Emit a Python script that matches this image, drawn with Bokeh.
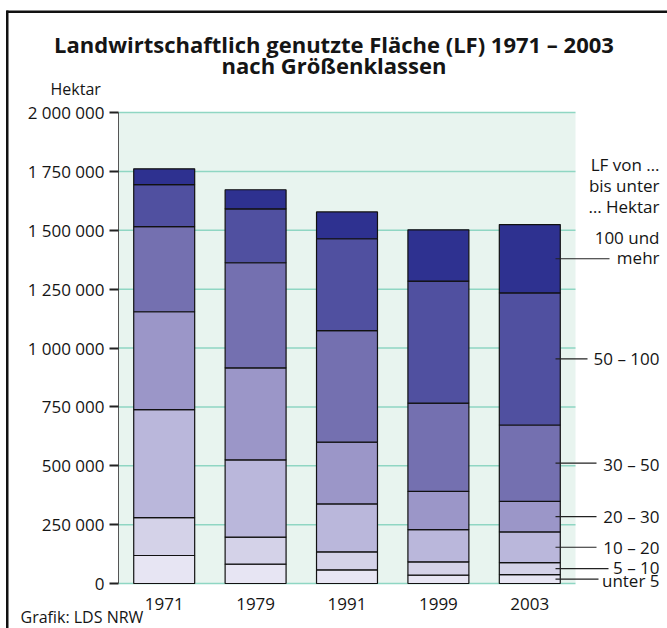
from bokeh.plotting import figure
from bokeh.models import Range1d, FixedTicker, BoxAnnotation, ColumnDataSource
from bokeh.embed import file_html
from bokeh.resources import INLINE
from bokeh.core.properties import value

# ---------------- data ----------------
years = ["1971", "1979", "1991", "1999", "2003"]
class_keys = ["u5", "v5", "v10", "v20", "v30", "v50", "v100"]
class_labels = ["unter 5", "5 – 10", "10 – 20", "20 – 30", "30 – 50", "50 – 100", "100 und mehr"]
unter5 = [119000, 82000, 58000, 35500, 38000]
von5   = [161000, 115000, 76500, 56500, 51000]
von10  = [458000, 328000, 203500, 137000, 130000]
von20  = [416000, 391000, 262000, 162000, 130000]
von30  = [361000, 446000, 474000, 375000, 324000]
von50  = [179000, 229000, 390000, 518000, 561000]
von100 = [67000, 81000, 114000, 218000, 290000]
y_ticks = [0, 250000, 500000, 750000, 1000000, 1250000, 1500000, 1750000, 2000000]
y_tick_labels = ["0", "250 000", "500 000", "750 000", "1 000 000", "1 250 000",
                 "1 500 000", "1 750 000", "2 000 000"]
colors = ["#e7e5f3", "#d4d2e8", "#bab7db", "#9b96c8", "#7470b0", "#5050a0", "#2e3190"]

FONT = "Open Sans"
TXT = "#151515"

# ---------------- layout: page pixels -> data units ----------------
W, H = 667, 628
AX_X, BAR_STEP = 118.0, 91.4        # page x of the value axis, pixels per category
Y0_PX, Y2M_PX = 583.0, 112.0        # page y of 0 and of 2 000 000
YMAX = 2000000


def xd(px):
    return 0.5 + (px - AX_X) / BAR_STEP


def yd(py):
    return (Y0_PX - py) / (Y0_PX - Y2M_PX) * YMAX


p = figure(width=W, height=H, x_range=Range1d(xd(0), xd(W)), y_range=Range1d(yd(H), yd(0)),
           output_backend="svg", toolbar_location=None,
           min_border_left=0, min_border_right=0, min_border_top=0, min_border_bottom=0)
p.outline_line_color = None
p.background_fill_color = "white"
p.border_fill_color = "white"
p.xgrid.visible = False
p.ygrid.visible = False

# plot background
p.add_layout(BoxAnnotation(left=0.5, right=5.5, bottom=0, top=YMAX,
                           fill_color="#e8f4ef", fill_alpha=1, line_color=None,
                           level="underlay"))

# grid lines at the tick values, only over the plot background
p.segment(x0=[0.5] * len(y_ticks), x1=[5.5] * len(y_ticks), y0=y_ticks, y1=y_ticks,
          line_color="#8fd6c3", line_width=1.5)

# stacked bars
src = ColumnDataSource(dict(x=list(range(1, len(years) + 1)), u5=unter5, v5=von5,
                            v10=von10, v20=von20, v30=von30, v50=von50, v100=von100))
p.vbar_stack(class_keys, x="x", width=0.667, source=src, color=colors,
             line_color="#111111", line_width=1.2)

# axes (drawn inside the full-size frame)
yax = p.yaxis[0]
yax.fixed_location = 0.5
yax.bounds = (0, YMAX)
yax.ticker = FixedTicker(ticks=y_ticks)
yax.major_label_overrides = {t: l for t, l in zip(y_ticks, y_tick_labels)}
yax.major_tick_out = 9
yax.major_tick_in = 0
yax.minor_tick_out = 0
yax.minor_tick_in = 0
yax.major_tick_line_color = "#222222"
yax.major_tick_line_width = 2
yax.axis_line_color = "#555555"
yax.axis_line_width = 1
yax.major_label_standoff = 5
yax.major_label_text_font = FONT
yax.major_label_text_font_size = "17px"
yax.major_label_text_color = TXT

xax = p.xaxis[0]
xax.fixed_location = 0
xax.ticker = FixedTicker(ticks=list(range(1, len(years) + 1)))
xax.major_label_overrides = {i + 1: y for i, y in enumerate(years)}
xax.axis_line_color = None
xax.major_tick_line_color = None
xax.minor_tick_line_color = None
xax.major_label_standoff = 8
xax.major_label_text_font = FONT
xax.major_label_text_font_size = "17px"
xax.major_label_text_color = TXT

# leader lines and class labels at the 2003 bar
last = [s[-1] for s in (unter5, von5, von10, von20, von30, von50, von100)]
mids = []
acc = 0
for v in last:
    mids.append(acc + v / 2)
    acc += v
lead_end = [xd(598), xd(608), xd(596), xd(596), xd(596), xd(587), xd(609)]
p.segment(x0=[xd(555)] * 7, x1=lead_end, y0=mids, y1=mids, line_color="#222222", line_width=1.2)

lab_text = ["unter 5", "5 – 10", "10 – 20", "20 – 30", "30 – 50", "50 – 100", "mehr", "100 und"]
lab_y = mids[:6] + [mids[6], mids[6]]
lab_off = [1.5, -1.0, 0, 0, 1.5, 0, -1.5, -21.5]
p.text(x=[xd(659)] * 8, y=lab_y, text=lab_text, y_offset=lab_off,
       text_align="right", text_baseline="middle", text_font=value(FONT),
       text_font_size="17px", text_color=TXT)

hdr = ["LF von …", "bis unter", "… Hektar"]
p.text(x=[xd(659)] * 3, y=[yd(164), yd(185), yd(206)], text=hdr,
       text_align="right", text_baseline="middle", text_font=value(FONT),
       text_font_size="17px", text_color=TXT)

# title, unit and source
p.text(x=[xd(333.5), xd(333.5)], y=[yd(43), yd(64)],
       text=["Landwirtschaftlich genutzte Fläche (LF) 1971 – 2003", "nach Größenklassen"],
       text_align="center", text_baseline="middle", text_font=value(FONT),
       text_font_size="22px", text_font_style="bold", text_color=TXT)
p.text(x=[xd(50)], y=[yd(88)], text=["Hektar"], text_align="left",
       text_baseline="middle", text_font=value(FONT), text_font_size="16px",
       text_color=TXT)
p.text(x=[xd(20)], y=[yd(616)], text=["Grafik: LDS NRW"], text_align="left",
       text_baseline="middle", text_font=value(FONT), text_font_size="16px",
       text_color=TXT)

# outer frame (top and left edge)
p.add_layout(BoxAnnotation(left=xd(6), right=xd(W), top=yd(10), bottom=yd(12.5),
                           fill_color="#111111", fill_alpha=1, line_color=None))
p.add_layout(BoxAnnotation(left=xd(5.5), right=xd(8), top=yd(10), bottom=yd(H),
                           fill_color="#111111", fill_alpha=1, line_color=None))

open("out.html", "w").write(file_html(p, INLINE))
